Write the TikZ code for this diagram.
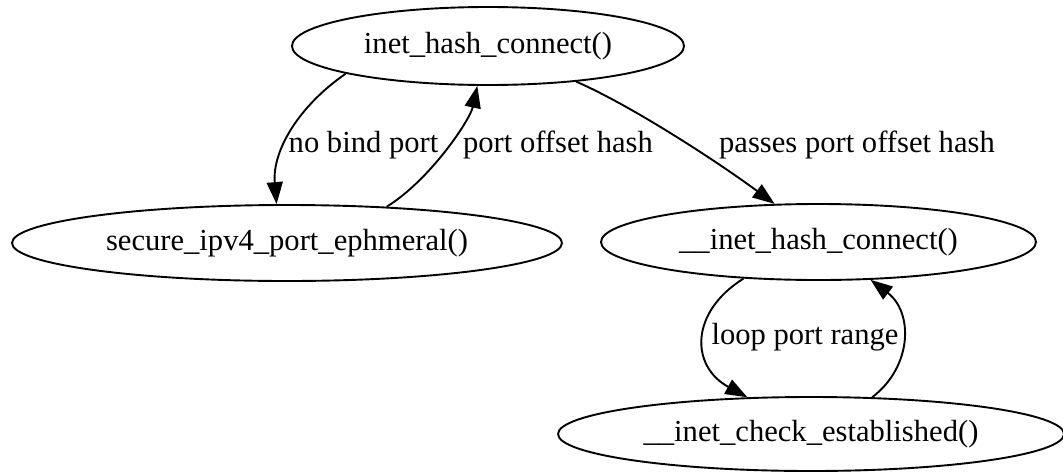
\documentclass[tikz,border=0pt]{standalone}
\usepackage{fontspec}
\setmainfont{Liberation Serif}
\usetikzlibrary{shapes.geometric,arrows.meta}

\tikzset{
  fn/.style={draw, ellipse, line width=1.9pt, inner sep=0pt,
    font=\fontsize{30.6pt}{36pt}\selectfont},
  lbl/.style={inner sep=0pt, font=\fontsize{30.6pt}{36pt}\selectfont},
  edge/.style={line width=1.9pt, -{Triangle[length=22pt,width=16pt]}}
}

\begin{document}
\begin{tikzpicture}[x=1pt,y=-1pt]
  \useasboundingbox (0,0) rectangle (1063,472);

  % functions
  \node[fn, minimum width=392pt, minimum height=78pt] (hc)  at (488,46)    {inet\_hash\_connect()};
  \node[fn, minimum width=550pt, minimum height=76pt] (sec) at (287,243)   {secure\_ipv4\_port\_ephmeral()};
  \node[fn, minimum width=435pt, minimum height=76pt] (ihc) at (818.5,242) {\_\_inet\_hash\_connect()};
  \node[fn, minimum width=506pt, minimum height=74pt] (ice) at (811,434)   {\_\_inet\_check\_established()};

  % edge labels
  \node[lbl] (l1) at (363.5,145) {no bind port};
  \node[lbl] (l2) at (558,145)   {port offset hash};
  \node[lbl] (l3) at (857,145)   {passes port offset hash};
  \node[lbl] (l4) at (805,337)   {loop port range};

  % calls
  \draw[edge] (hc.191.7) .. controls (300,105) and (272,150) .. (sec.105);
  \draw[edge] (sec.20.3) .. controls (430,180) and (470,120) .. (hc.255.6);
  \draw[edge] (hc.338) .. controls (630,105) and (715,160) .. (ihc.139.4);
  \draw[edge] (ihc.206.7) .. controls (690,312) and (690,366) .. (ice.150.6);
  \draw[edge] (ice.31.4) .. controls (913,366) and (913,312) .. (ihc.324.3);
\end{tikzpicture}
\end{document}
